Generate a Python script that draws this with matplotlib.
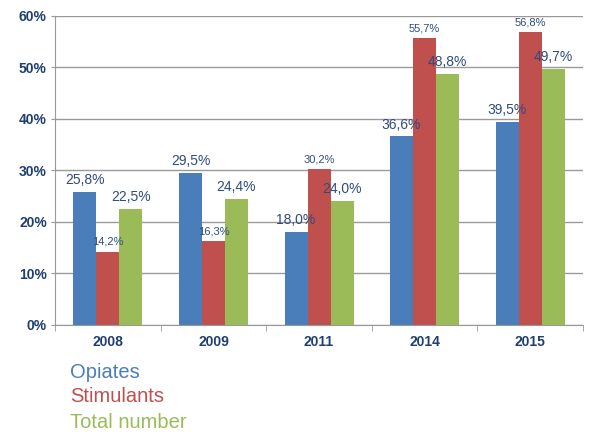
import numpy as np
import matplotlib
matplotlib.use("Agg")
import matplotlib.pyplot as plt
from matplotlib.ticker import FuncFormatter

years = ["2008", "2009", "2011", "2014", "2015"]
opiates = [25.8, 29.5, 18.0, 36.6, 39.5]
stimulants = [14.2, 16.3, 30.2, 55.7, 56.8]
total = [22.5, 24.4, 24.0, 48.8, 49.7]
series_names = ["Opiates", "Stimulants", "Total number"]

plt.rcParams["font.family"] = ["Liberation Sans", "DejaVu Sans"]

colors = ["#4A7EBB", "#C0504D", "#9BBB59"]
label_color = "#2F4B7C"
tick_color = "#1F3F73"

fig = plt.figure(figsize=(5.93, 4.32), dpi=100)
ax = fig.add_axes([0.093, 0.248, 0.890, 0.715])

x = np.arange(len(years))
w = 0.218
for i, (vals, col) in enumerate(zip([opiates, stimulants, total], colors)):
    xs = x + (i - 1) * w
    ax.bar(xs, vals, width=w, color=col, zorder=3)
    fs = 8 if i == 1 else 10
    for xv, v in zip(xs, vals):
        ax.annotate(f"{v:.1f}%".replace(".", ","), (xv, v), xytext=(0, 3.5),
                    textcoords="offset points", ha="center", va="bottom",
                    fontsize=fs, color=label_color, zorder=4)

ax.set_xlim(-0.5, len(years) - 0.5)
ax.set_ylim(0, 60)
ax.set_yticks(range(0, 61, 10))
ax.yaxis.set_major_formatter(FuncFormatter(lambda v, _: f"{v:.0f}%"))
ax.set_xticks(x)
ax.set_xticklabels(years)
ax.set_xticks(np.arange(-0.5, len(years)), minor=True)
ax.tick_params(axis="x", which="major", length=0, pad=7)
ax.tick_params(axis="x", which="minor", length=4, color="#999999")
ax.tick_params(axis="y", length=3, color="#999999", pad=3)
for lab in ax.get_xticklabels() + ax.get_yticklabels():
    lab.set_fontweight("bold")
    lab.set_fontsize(10)
    lab.set_color(tick_color)

ax.grid(axis="y", color="#9A9A9A", linewidth=1, zorder=0)
for s in ["top", "right"]:
    ax.spines[s].set_visible(False)
ax.spines["left"].set_color("#999999")
ax.spines["bottom"].set_color("#999999")

for j, (name, col) in enumerate(zip(series_names, colors)):
    fig.text(70 / 593, 1 - (372 + j * 25) / 432, name, color=col,
             fontsize=14.5, va="center", ha="left")

fig.savefig("out.png", dpi=100)
